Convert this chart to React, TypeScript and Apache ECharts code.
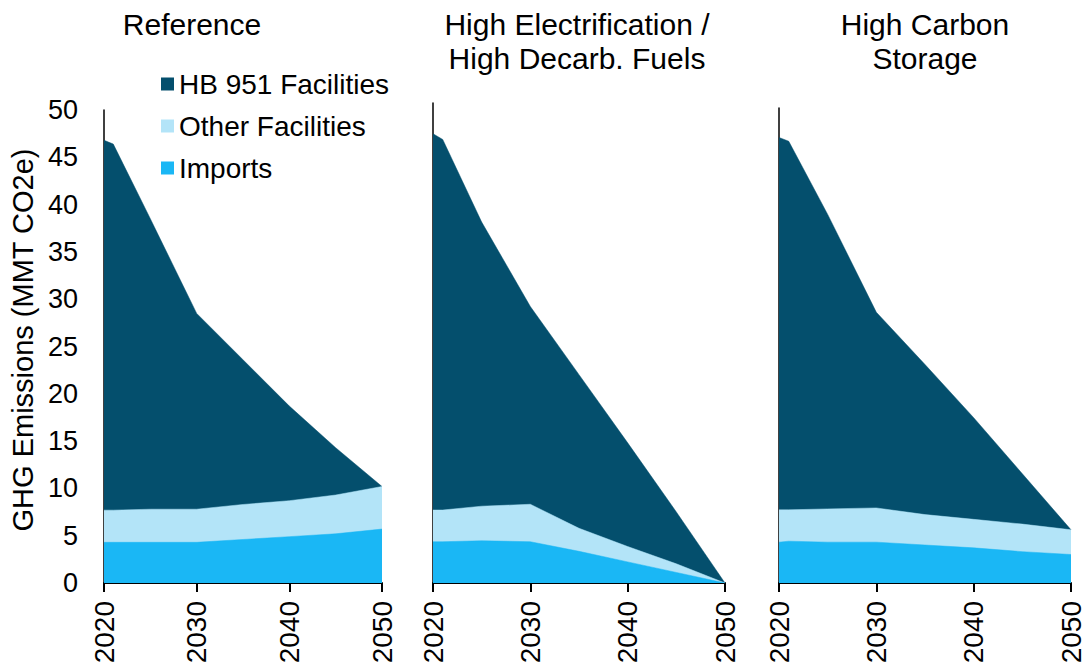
import React, { useEffect, useRef } from "react";
import * as echarts from "echarts";

const years = [2020, 2021, 2025, 2030, 2035, 2040, 2045, 2050];
const xTicks = [2020, 2030, 2040, 2050];
const seriesNames = ["Imports", "Other Facilities", "HB 951 Facilities"];
const panelTitles = ["Reference", "High Electrification /\nHigh Decarb. Fuels", "High Carbon\nStorage"];
const yAxisTitle = "GHG Emissions (MMT CO2e)";

// Reference scenario
const refImports = [4.3, 4.3, 4.3, 4.3, 4.6, 4.9, 5.2, 5.7];
const refOther = [3.4, 3.4, 3.5, 3.5, 3.7, 3.8, 4.1, 4.5];
const refHB951 = [39.1, 38.7, 30.7, 20.7, 15.3, 10.0, 5.0, 0];

// High Electrification / High Decarb. Fuels
const elecImports = [4.3, 4.3, 4.4, 4.3, 3.3, 2.2, 1.1, 0];
const elecOther = [3.3, 3.3, 3.6, 3.9, 2.4, 1.6, 0.9, 0];
const elecHB951 = [39.2, 38.6, 29.6, 20.6, 16.0, 10.8, 5.4, 0];

// High Carbon Storage
const ccsImports = [4.3, 4.4, 4.3, 4.3, 4.0, 3.7, 3.3, 3.0];
const ccsOther = [3.4, 3.3, 3.5, 3.6, 3.2, 3.0, 2.9, 2.6];
const ccsHB951 = [39.2, 38.8, 31.0, 20.6, 15.8, 10.7, 5.3, 0];

const panels = [
  [refImports, refOther, refHB951],
  [elecImports, elecOther, elecHB951],
  [ccsImports, ccsOther, ccsHB951],
];

const colors = ["#1AB7F5", "#B3E4F8", "#044F6D"];
const FONT = "'Liberation Sans', Arial, sans-serif";

export default function App() {
  const ref = useRef<HTMLDivElement>(null);
  useEffect(() => {
    if (!ref.current) return;
    const chart = echarts.init(ref.current, undefined, { renderer: "svg" });
    const grids = [
      { left: 104, top: 110, width: 278, height: 473 },
      { left: 433, top: 103, width: 292, height: 480 },
      { left: 779, top: 108, width: 293, height: 475 },
    ];
    const titleX = [192, 577, 925];
    const xAxes = grids.map((_, i) => ({
      type: "value",
      gridIndex: i,
      min: 2020,
      max: 2050,
      interval: 10,
      axisLine: { show: true, lineStyle: { color: "#000", width: 2 } },
      axisTick: { show: true, length: 9, lineStyle: { color: "#000", width: 2 } },
      splitLine: { show: false },
      axisLabel: {
        show: true,
        rotate: 90,
        fontSize: 28,
        fontFamily: FONT,
        color: "#000",
        margin: 18,
        formatter: (v: number) => (xTicks.includes(v) ? String(v) : ""),
      },
    }));
    const yAxes = grids.map((_, i) => ({
      type: "value",
      gridIndex: i,
      min: 0,
      max: 50,
      interval: 5,
      axisLine: { show: true, lineStyle: { color: "#000", width: 1.5 } },
      axisTick: { show: false },
      splitLine: { show: false },
      axisLabel: {
        show: i === 0,
        fontSize: 27,
        fontFamily: FONT,
        color: "#000",
        margin: 26,
      },
    }));
    const series: any[] = [];
    panels.forEach((vals, p) => {
      // cumulative tops: imports, imports+other, imports+other+hb951
      const tops: number[][] = [];
      let acc = years.map(() => 0);
      vals.forEach((arr) => {
        acc = acc.map((a, k) => +(a + arr[k]).toFixed(3));
        tops.push(acc);
      });
      vals.forEach((_, s) => {
        series.push({
          name: seriesNames[s],
          type: "line",
          xAxisIndex: p,
          yAxisIndex: p,
          symbol: "none",
          lineStyle: { width: 0.5, color: colors[s] },
          itemStyle: { color: colors[s] },
          areaStyle: { color: colors[s], opacity: 1, origin: "start" },
          data: years.map((y, k) => [y, tops[s][k]]),
          z: 2 + (3 - s),
        });
      });
    });
    const graphic: any[] = panelTitles.map((t, i) => ({
      type: "text",
      x: titleX[i],
      y: 7,
      style: {
        text: t,
        fill: "#000",
        fontSize: 30,
        fontFamily: FONT,
        align: "center",
        verticalAlign: "top",
        lineHeight: 34,
      },
    }));
    graphic.push({
      type: "text",
      x: 23,
      y: 340,
      rotation: Math.PI / 2,
      style: {
        text: yAxisTitle,
        fill: "#000",
        fontSize: 29,
        fontFamily: FONT,
        align: "center",
        verticalAlign: "middle",
        lineHeight: 30,
      },
    });
    chart.setOption({
      animation: false,
      backgroundColor: "#fff",
      grid: grids,
      xAxis: xAxes,
      yAxis: yAxes,
      legend: {
        orient: "vertical",
        left: 156,
        top: 65,
        itemWidth: 13,
        itemHeight: 13,
        itemGap: 14,
        icon: "rect",
        data: ["HB 951 Facilities", "Other Facilities", "Imports"],
        textStyle: { fontSize: 28, fontFamily: FONT, color: "#000", lineHeight: 28 },
        selectedMode: false,
      },
      graphic,
      series,
    });
    return () => chart.dispose();
  }, []);
  return (
    <div
      ref={ref}
      style={{ position: "fixed", left: 0, top: 0, width: 1085, height: 669, background: "#fff" }}
    />
  );
}
